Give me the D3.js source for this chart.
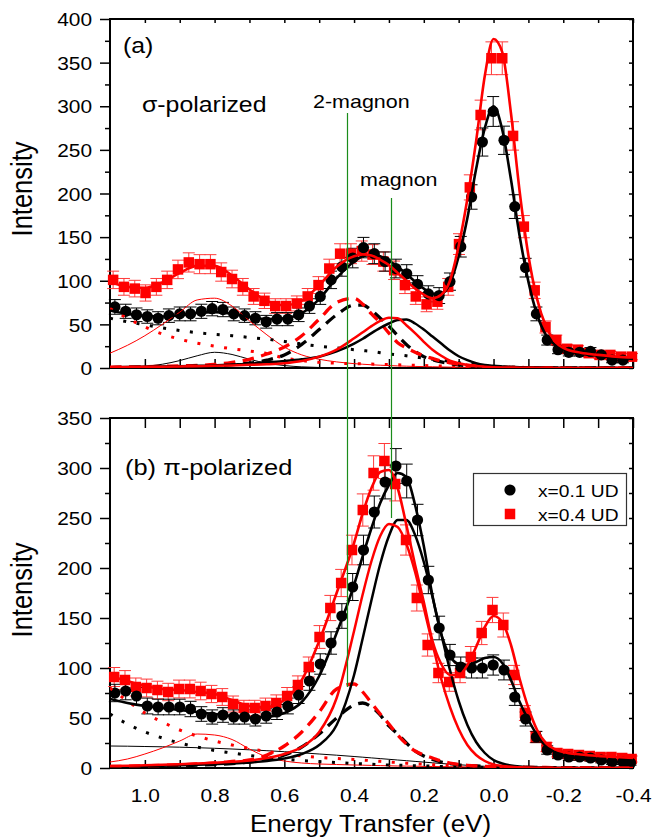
<!DOCTYPE html>
<html>
<head>
<meta charset="utf-8">
<script src="https://cdn.jsdelivr.net/npm/d3@7"></script>
<style>
  html, body { margin: 0; padding: 0; background: #fff; }
  svg { display: block; }
</style>
</head>
<body>
<svg id="chart" width="654" height="838"></svg>
<script>
// ---------- measured spectra (energy transfer in eV, intensity in counts) ----------
const energyBlackA = [1.086, 1.055, 1.024, 0.993, 0.962, 0.931, 0.900, 0.869, 0.838, 0.807,
  0.776, 0.745, 0.714, 0.683, 0.652, 0.621, 0.590, 0.559, 0.528, 0.497,
  0.466, 0.435, 0.404, 0.373, 0.342, 0.311, 0.280, 0.249, 0.218, 0.187,
  0.156, 0.125, 0.094, 0.063, 0.032, 0.001, -0.030, -0.061, -0.092, -0.123,
  -0.154, -0.185, -0.216, -0.247, -0.278, -0.309, -0.340, -0.371];
const intensityBlackA = [70, 65, 61, 59, 57, 60, 62, 62, 65, 68,
  67, 62, 60, 57, 53, 56, 56, 61, 71, 82,
  101, 116, 126, 138, 131, 122, 114, 108, 96, 85,
  83, 99, 139, 196, 259, 294, 261, 185, 115, 62,
  32, 21, 18, 18, 19, 15, 9, 9];
const errorBlackA = [8.4, 8.1, 7.8, 7.7, 7.5, 7.7, 7.9, 7.9, 8.1, 8.2,
  8.2, 7.9, 7.7, 7.5, 7.3, 7.5, 7.5, 7.8, 8.4, 9.1,
  10, 10.8, 11.2, 11.7, 11.4, 11, 10.7, 10.4, 9.8, 9.2,
  9.1, 9.9, 11.8, 14, 16.1, 17.1, 16.2, 13.6, 10.7, 7.9,
  5.7, 4.6, 4.2, 4.2, 4.4, 3.9, 3, 3];

const energyRedA = [1.091, 1.060, 1.029, 0.998, 0.967, 0.936, 0.905, 0.874, 0.843, 0.812,
  0.781, 0.750, 0.719, 0.688, 0.657, 0.626, 0.595, 0.564, 0.533, 0.502,
  0.471, 0.440, 0.409, 0.378, 0.347, 0.316, 0.285, 0.254, 0.223, 0.192,
  0.161, 0.130, 0.099, 0.068, 0.037, 0.006, -0.025, -0.056, -0.087, -0.118,
  -0.149, -0.180, -0.211, -0.242, -0.273, -0.304, -0.335, -0.366, -0.397];
const intensityRedA = [101, 93, 91, 86, 93, 101, 113, 121, 119, 119,
  110, 102, 93, 82, 77, 71, 71, 74, 82, 95,
  114, 131, 131, 134, 130, 122, 112, 95, 82, 73,
  76, 93, 142, 207, 290, 355, 355, 266, 162, 89,
  47, 32, 22, 21, 17, 15, 15, 13, 13];
const errorRedA = [10, 9.6, 9.5, 9.3, 9.6, 10, 10.6, 11, 10.9, 10.9,
  10.5, 10.1, 9.6, 9.1, 8.8, 8.4, 8.4, 8.6, 9.1, 9.7,
  10.7, 11.4, 11.4, 11.6, 11.4, 11, 10.6, 9.7, 9.1, 8.5,
  8.7, 9.6, 11.9, 14.4, 17, 18.8, 18.8, 16.3, 12.7, 9.4,
  6.9, 5.7, 4.7, 4.6, 4.1, 3.9, 3.9, 3.6, 3.6];

const energyBlackB = [1.086, 1.055, 1.024, 0.993, 0.962, 0.931, 0.900, 0.869, 0.838, 0.807,
  0.776, 0.745, 0.714, 0.683, 0.652, 0.621, 0.590, 0.559, 0.528, 0.497,
  0.466, 0.435, 0.404, 0.373, 0.342, 0.311, 0.280, 0.249, 0.218, 0.187,
  0.156, 0.125, 0.094, 0.063, 0.032, 0.001, -0.030, -0.061, -0.092, -0.123,
  -0.154, -0.185, -0.216, -0.247, -0.278, -0.309, -0.340, -0.371, -0.393];
const intensityBlackB = [75, 77, 72, 62, 61, 61, 61, 59, 54, 51,
  53, 51, 51, 49, 52, 56, 62, 73, 87, 104,
  125, 152, 181, 218, 256, 286, 302, 287, 248, 188,
  140, 113, 101, 100, 100, 103, 98, 71, 49, 31,
  18, 13, 11, 11, 10, 8, 6, 6, 5];
const errorBlackB = [8.7, 8.8, 8.5, 7.9, 7.8, 7.8, 7.8, 7.7, 7.3, 7.1,
  7.3, 7.1, 7.1, 7, 7.2, 7.5, 7.9, 8.5, 9.3, 10.2,
  11.2, 12.3, 13.5, 14.8, 16, 16.9, 17.4, 16.9, 15.7, 13.7,
  11.8, 10.6, 10, 10, 10, 10.1, 9.9, 8.4, 7, 5.6,
  4.2, 3.6, 3.3, 3.3, 3.2, 2.8, 2.4, 2.4, 2.2];

const energyRedB = [1.088, 1.057, 1.026, 0.995, 0.964, 0.933, 0.902, 0.871, 0.840, 0.809,
  0.778, 0.747, 0.716, 0.685, 0.654, 0.623, 0.592, 0.561, 0.530, 0.499,
  0.468, 0.437, 0.406, 0.375, 0.344, 0.313, 0.282, 0.251, 0.220, 0.189,
  0.158, 0.127, 0.096, 0.065, 0.034, 0.003, -0.028, -0.059, -0.090, -0.121,
  -0.152, -0.183, -0.214, -0.245, -0.276, -0.307, -0.338, -0.369, -0.396];
const intensityRedB = [91, 88, 81, 80, 78, 76, 79, 79, 77, 74,
  71, 64, 60, 60, 62, 65, 72, 83, 101, 131,
  160, 185, 218, 258, 295, 307, 284, 228, 170, 123,
  95, 86, 95, 111, 135, 158, 143, 93, 55, 31,
  21, 15, 14, 13, 12, 11, 11, 10, 9];
const errorRedB = [9.5, 9.4, 9, 8.9, 8.8, 8.7, 8.9, 8.9, 8.8, 8.6,
  8.4, 8, 7.7, 7.7, 7.9, 8.1, 8.5, 9.1, 10, 11.4,
  12.6, 13.6, 14.8, 16.1, 17.2, 17.5, 16.9, 15.1, 13, 11.1,
  9.7, 9.3, 9.7, 10.5, 11.6, 12.6, 12, 9.6, 7.4, 5.6,
  4.6, 3.9, 3.7, 3.6, 3.5, 3.3, 3.3, 3.2, 3];

// ---------- fit curves, sampled on a common energy grid ----------
const fitEnergy = [1.1, 1.05, 1.0, 0.95, 0.9, 0.85, 0.8, 0.75, 0.7, 0.65, 0.6, 0.55, 0.5,
  0.45, 0.4, 0.375, 0.35, 0.325, 0.3, 0.275, 0.25, 0.225, 0.2, 0.175, 0.15, 0.125,
  0.1, 0.075, 0.05, 0.025, 0, -0.025, -0.05, -0.075, -0.1, -0.125, -0.15, -0.175, -0.2,
  -0.25, -0.3, -0.35, -0.4];

// (a) sigma-polarized
const totalBlackA = [66, 62, 59.5, 59, 60.5, 63, 64, 62, 58.5, 56, 57, 63, 79,
  103, 122, 128, 129.5, 128, 123, 116, 108, 99, 91, 85, 85, 97,
  128, 172, 228, 275, 300, 273, 216, 151, 99, 61, 38, 27, 21.5,
  16.5, 14, 12, 10.5];
const totalRedA = [99, 93, 92, 98, 109, 117, 117, 106, 90, 77, 72, 77, 95,
  116, 128, 130, 129, 124, 118, 109, 100, 91, 84, 80, 84, 100,
  140, 194, 260, 335, 377, 362, 292, 202, 129, 79, 48, 31, 23,
  17.5, 15, 13, 12];
const magnonBlackA = [1, 1.2, 1.5, 1.8, 2, 2.5, 3, 4, 5, 6.5, 8, 10, 13,
  19, 28, 33.5, 40, 46, 51, 55, 55.5, 51, 44, 36, 28, 20,
  13.5, 9, 5.5, 3.5, 2.5, 1.8, 1.2, 0.9, 0.6, 0.5, 0.4, 0.3, 0.3,
  0.2, 0.2, 0.1, 0.1];
const magnonRedA = [1, 1.1, 1.3, 1.5, 1.8, 2.1, 2.5, 3, 3.6, 4.3, 5.5, 8, 13,
  21, 34, 41, 48, 54, 57.5, 57, 49, 40, 30, 21, 14, 8.5,
  5.5, 3.5, 2.2, 1.5, 1, 0.7, 0.5, 0.4, 0.3, 0.2, 0.2, 0.1, 0.1,
  0.1, 0, 0, 0];
const twoMagnonBlackA = [0.5, 0.7, 0.9, 1.2, 1.5, 2, 2.5, 3.8, 5.5, 9, 15, 27, 44,
  61, 72, 72, 66, 57, 48, 37, 27, 19, 13, 9.5, 7, 5,
  3.5, 2.5, 1.8, 1.3, 1, 0.8, 0.6, 0.5, 0.4, 0.3, 0.3, 0.2, 0.2,
  0.2, 0.1, 0.1, 0.1];
const twoMagnonRedA = [1, 1.2, 1.5, 2, 2.5, 3, 4, 6.5, 10, 16, 24, 37, 56,
  75, 80, 73, 62, 52, 40, 29, 23, 18, 14, 11, 8, 6,
  4.5, 3.3, 2.5, 1.8, 1.4, 1, 0.8, 0.6, 0.5, 0.4, 0.3, 0.3, 0.2,
  0.2, 0.1, 0.1, 0.1];
const backgroundBlackA = [57, 53, 49.5, 46, 43, 40.5, 38.5, 37, 35, 33, 30.5, 27.5, 25,
  23, 21, 20, 19, 17.5, 16, 15, 14, 12.5, 11.5, 10, 9, 7.5,
  6, 5, 4, 3, 2, 1.5, 1, 0.7, 0.5, 0.3, 0.2, 0.1, 0.1,
  0, 0, 0, 0];
const backgroundRedA = [68, 57, 47, 39, 33, 28.5, 25, 22, 19.5, 16.5, 11.5, 8.5, 6.5,
  5.5, 5, 4.8, 4.5, 4.2, 4, 3.7, 3.4, 3.1, 2.8, 2.5, 2.2, 2,
  1.7, 1.4, 1.1, 0.8, 0.6, 0.4, 0.3, 0.2, 0.1, 0.1, 0, 0, 0,
  0, 0, 0, 0];
const highBlackA = [0.3, 0.8, 2, 4.3, 8.5, 14, 18, 15.5, 10, 5.5, 2.8, 1.3, 0.6,
  0.3, 0.1, 0.1, 0, 0, 0, 0, 0, 0, 0, 0, 0, 0,
  0, 0, 0, 0, 0, 0, 0, 0, 0, 0, 0, 0, 0,
  0, 0, 0, 0];
const highRedA = [17, 26, 37, 50, 64, 78, 80, 71, 54, 38, 24, 15, 10,
  7, 5, 4.3, 3.7, 3.2, 2.8, 2.4, 2.1, 1.8, 1.6, 1.4, 1.2, 1,
  0.9, 0.8, 0.7, 0.6, 0.5, 0.45, 0.4, 0.35, 0.3, 0.3, 0.25, 0.25, 0.2,
  0.2, 0.2, 0.2, 0.2];

// (b) pi-polarized
const totalBlackB = [69, 65, 62, 60, 58, 56, 54, 52, 50.5, 51, 55, 66, 92,
  135, 183, 212, 240, 265, 283, 295, 291, 263, 222, 172, 134, 112,
  104, 103, 106, 110, 111, 105, 88, 66, 48, 33, 22, 16, 12.5,
  9.5, 7.5, 6, 5];
const totalRedB = [92, 87, 82, 79, 78, 76, 74, 68, 62, 61, 68, 88, 127,
  175, 225, 255, 280, 296, 298, 280, 243, 203, 166, 127, 104, 93,
  93, 103, 121, 141, 152, 146, 123, 89, 60, 38, 25, 19, 16,
  13.5, 12, 11, 10];
const magnonBlackB = [1.5, 1.7, 2, 2.3, 2.7, 3.2, 3.8, 4.5, 5.5, 7, 9.5, 14, 23,
  43, 93, 130, 168, 204, 232, 248, 248, 233, 206, 171, 134, 98,
  67, 43, 26, 15, 8, 4.5, 2.5, 1.5, 1, 0.6, 0.4, 0.3, 0.2,
  0.1, 0.1, 0.1, 0];
const magnonRedB = [2, 2.3, 2.7, 3.2, 3.8, 4.5, 5.3, 6.3, 7.5, 10, 14, 21, 36,
  70, 137, 174, 207, 232, 244, 241, 224, 196, 160, 124, 89, 61,
  39, 23, 13, 7, 3.5, 2, 1.2, 0.8, 0.5, 0.3, 0.2, 0.1, 0.1,
  0, 0, 0, 0];
const twoMagnonBlackB = [1, 1.2, 1.5, 1.8, 2.2, 2.8, 3.5, 4.5, 6, 8.5, 13, 21, 34,
  50, 63, 65, 61, 53, 42, 34, 25, 17, 12, 8.5, 6, 4.3,
  3.2, 2.5, 2, 1.6, 1.3, 1, 0.8, 0.7, 0.6, 0.5, 0.4, 0.4, 0.3,
  0.3, 0.2, 0.2, 0.2];
const twoMagnonRedB = [1.5, 1.8, 2.2, 2.6, 3.2, 4, 5, 6.5, 8, 13, 22, 36, 56,
  79, 84, 76, 65, 54, 44, 33, 24, 17, 13, 10, 7, 5,
  3.5, 2.7, 2.1, 1.7, 1.4, 1.1, 0.9, 0.8, 0.7, 0.6, 0.5, 0.4, 0.4,
  0.3, 0.3, 0.2, 0.2];
const backgroundBlackB = [54, 44, 36, 30, 25, 21, 17.5, 15, 12.5, 10.5, 9, 7.5, 6.5,
  5.5, 4.5, 4.2, 3.8, 3.4, 3, 2.8, 2.5, 2.2, 2, 1.8, 1.5, 1.3,
  1, 0.8, 0.6, 0.5, 0.4, 0.3, 0.2, 0.1, 0.1, 0, 0, 0, 0,
  0, 0, 0, 0];
const backgroundRedB = [80, 67, 55, 46, 38, 32, 27, 23, 19.5, 16.5, 14, 12, 10.5,
  9.5, 8.5, 8, 7.3, 6.7, 6, 5.4, 4.8, 4.3, 3.8, 3.3, 2.9, 2.5,
  2.1, 1.8, 1.5, 1.2, 1, 0.8, 0.6, 0.5, 0.4, 0.3, 0.2, 0.1, 0.1,
  0, 0, 0, 0];
const highBlackB = [22, 21.8, 21.5, 21.2, 20.8, 20.3, 19.7, 19, 18.2, 17.3, 16.3, 15.2, 14,
  12.8, 11.5, 10.8, 10.1, 9.4, 8.7, 8, 7.3, 6.6, 5.9, 5.2, 4.5, 3.9,
  3.3, 2.7, 2.2, 1.7, 1.3, 1, 0.7, 0.5, 0.35, 0.25, 0.2, 0.15, 0.1,
  0.1, 0, 0, 0];
const highRedB = [6, 9, 14, 20, 27, 34, 33, 28.5, 19, 11, 7, 5, 4,
  3.5, 3, 2.8, 2.6, 2.4, 2.2, 2, 1.9, 1.8, 1.6, 1.5, 1.4, 1.3,
  1.2, 1.1, 1, 0.9, 0.8, 0.7, 0.7, 0.6, 0.6, 0.5, 0.5, 0.5, 0.5,
  0.4, 0.4, 0.4, 0.4];

// ---------- axes ----------
const xMajorTicks = [1.0, 0.8, 0.6, 0.4, 0.2, 0.0, -0.2, -0.4];
const xMinorTicks = [0.9, 0.7, 0.5, 0.3, 0.1, -0.1, -0.3];
const yMajorTicksA = [0, 50, 100, 150, 200, 250, 300, 350, 400];
const yMinorTicksA = [25, 75, 125, 175, 225, 275, 325, 375];
const yMajorTicksB = [0, 50, 100, 150, 200, 250, 300, 350];
const yMinorTicksB = [25, 75, 125, 175, 225, 275, 325];

// energies marked by the guide lines
const twoMagnonEnergy = 0.42;
const magnonEnergy = 0.294;

const FONT = '"Liberation Sans", Arial, Helvetica, sans-serif';
const STRETCH = 1.13;   // glyphs are drawn slightly wide
const BLACK = '#000000';
const RED = '#ff0000';
const RED_ERR = '#ff3a3a';
const GREEN = '#1a8c1a';

const svg = d3.select('#chart');
const x = d3.scaleLinear().domain([1.1, -0.4]).range([110, 633]);

function addText(parent, str, px, py, size, anchor, rotate) {
  let t = `translate(${px},${py}) scale(${STRETCH},1)`;
  if (rotate) t += ` rotate(${rotate})`;
  return parent.append('text')
    .attr('transform', t)
    .attr('text-anchor', anchor || 'start')
    .attr('font-family', FONT)
    .attr('font-size', size)
    .attr('fill', '#000')
    .text(str);
}

function drawPanel(cfg) {
  const y = cfg.y;
  const [yBottom, yTop] = y.range();
  const g = svg.append('g');
  const clipId = 'clip-' + cfg.id;
  svg.append('defs').append('clipPath').attr('id', clipId)
    .append('rect').attr('x', 110).attr('y', yTop).attr('width', 523).attr('height', yBottom - yTop);

  const tickStyle = sel => {
    sel.select('.domain').remove();
    sel.selectAll('.tick line').attr('stroke', '#000').attr('stroke-width', 1.5);
    sel.attr('font-family', FONT).attr('font-size', 18.5);
  };

  // left axis: outward ticks with labels
  g.append('g').attr('transform', 'translate(110,0)')
    .call(d3.axisLeft(y).tickValues(cfg.yMajor).tickSize(10).tickPadding(5.9)
      .tickFormat(d => String(d)))
    .call(tickStyle)
    .call(s => s.selectAll('.tick text')
      .attr('fill', '#000').attr('dy', '0.36em')
      .attr('transform', `scale(${STRETCH},1)`));
  g.append('g').attr('transform', 'translate(110,0)')
    .call(d3.axisLeft(y).tickValues(cfg.yMinor).tickSize(5).tickFormat(''))
    .call(tickStyle);

  // right axis: short inward ticks
  g.append('g').attr('transform', 'translate(633,0)')
    .call(d3.axisRight(y).tickValues(cfg.yMajor.concat(cfg.yMinor)).tickSizeInner(-4).tickSizeOuter(0).tickFormat(''))
    .call(tickStyle);

  // top axis: inward ticks
  g.append('g').attr('transform', `translate(0,${yTop})`)
    .call(d3.axisTop(x).tickValues(xMajorTicks.concat(xMinorTicks)).tickSizeInner(-cfg.topTick).tickSizeOuter(0).tickFormat(''))
    .call(tickStyle);

  // bottom axis: inward ticks, labels only on the lower panel
  g.append('g').attr('transform', `translate(0,${yBottom})`)
    .call(d3.axisBottom(x).tickValues(xMajorTicks).tickSizeInner(-cfg.bottomTick).tickSizeOuter(0)
      .tickFormat(cfg.xLabels ? (d => d.toFixed(1)) : ''))
    .call(tickStyle)
    .call(s => s.selectAll('.tick text')
      .attr('fill', '#000').attr('y', 33.7).attr('dy', null)
      .attr('transform', `scale(${STRETCH},1)`));
  g.append('g').attr('transform', `translate(0,${yBottom})`)
    .call(d3.axisBottom(x).tickValues(xMinorTicks).tickSizeInner(-cfg.bottomTick).tickSizeOuter(0).tickFormat(''))
    .call(tickStyle);

  // frame
  g.append('rect').attr('x', 110).attr('y', yTop).attr('width', 523).attr('height', yBottom - yTop)
    .attr('fill', 'none').attr('stroke', '#000').attr('stroke-width', 2);

  // data: error bars then markers
  const drawErrors = (E, V, S, color) => {
    g.append('g').selectAll('path').data(d3.zip(E, V, S)).join('path')
      .attr('d', d => {
        const px = x(d[0]), lo = y(d[1] - d[2]), hi = y(d[1] + d[2]);
        return `M${px - 6},${hi}H${px + 6}M${px},${hi}V${lo}M${px - 6},${lo}H${px + 6}`;
      })
      .attr('fill', 'none').attr('stroke', color).attr('stroke-width', 1);
  };
  drawErrors(cfg.redE, cfg.redV, cfg.redS, RED_ERR);
  drawErrors(cfg.blackE, cfg.blackV, cfg.blackS, BLACK);

  g.append('g').selectAll('rect').data(d3.zip(cfg.redE, cfg.redV)).join('rect')
    .attr('x', d => x(d[0]) - 5.25).attr('y', d => y(d[1]) - 5.25)
    .attr('width', 10.5).attr('height', 10.5).attr('fill', RED);
  g.append('g').selectAll('circle').data(d3.zip(cfg.blackE, cfg.blackV)).join('circle')
    .attr('cx', d => x(d[0])).attr('cy', d => y(d[1])).attr('r', 5.6).attr('fill', BLACK);

  // fitted components and totals
  const line = d3.line().x(d => x(d[0])).y(d => y(d[1])).curve(d3.curveMonotoneX);
  const lines = g.append('g').attr('clip-path', `url(#${clipId})`);
  const addCurve = (vals, color, width, dash) => {
    lines.append('path').datum(d3.zip(fitEnergy, vals))
      .attr('d', line).attr('fill', 'none').attr('stroke', color)
      .attr('stroke-width', width).attr('stroke-dasharray', dash || null)
      .attr('stroke-linejoin', 'round');
  };
  cfg.curves.forEach(c => addCurve(c[0], c[1], c[2], c[3]));
  return g;
}

const DOT = '3 10.5';
const DASH = '11.5 7.5';

const yA = d3.scaleLinear().domain([0, 400]).range([368, 19]);
const yB = d3.scaleLinear().domain([0, 350]).range([768, 418]);

drawPanel({
  id: 'a', y: yA, yMajor: yMajorTicksA, yMinor: yMinorTicksA, topTick: 4, bottomTick: 9, xLabels: false,
  blackE: energyBlackA, blackV: intensityBlackA, blackS: errorBlackA,
  redE: energyRedA, redV: intensityRedA, redS: errorRedA,
  curves: [
    [highBlackA, BLACK, 1], [highRedA, RED, 1],
    [backgroundBlackA, BLACK, 3, DOT], [backgroundRedA, RED, 3, DOT],
    [twoMagnonBlackA, BLACK, 3.3, DASH], [twoMagnonRedA, RED, 3.3, DASH],
    [magnonBlackA, BLACK, 2.5], [magnonRedA, RED, 2.5],
    [totalBlackA, BLACK, 2.6], [totalRedA, RED, 2.6]
  ]
});

drawPanel({
  id: 'b', y: yB, yMajor: yMajorTicksB, yMinor: yMinorTicksB, topTick: 10, bottomTick: 8, xLabels: true,
  blackE: energyBlackB, blackV: intensityBlackB, blackS: errorBlackB,
  redE: energyRedB, redV: intensityRedB, redS: errorRedB,
  curves: [
    [highBlackB, BLACK, 1], [highRedB, RED, 1],
    [backgroundBlackB, BLACK, 3, DOT], [backgroundRedB, RED, 3, DOT],
    [twoMagnonBlackB, BLACK, 3.3, DASH], [twoMagnonRedB, RED, 3.3, DASH],
    [magnonBlackB, BLACK, 2.5], [magnonRedB, RED, 2.5],
    [totalBlackB, BLACK, 2.6], [totalRedB, RED, 2.6]
  ]
});

// guide lines for the 2-magnon and magnon energies (snapped to the pixel grid)
const crisp = v => Math.round(v) + 0.5;
svg.append('line').attr('x1', crisp(x(twoMagnonEnergy))).attr('x2', crisp(x(twoMagnonEnergy)))
  .attr('y1', 113).attr('y2', 687).attr('stroke', GREEN).attr('stroke-width', 1.2);
svg.append('line').attr('x1', crisp(x(magnonEnergy))).attr('x2', crisp(x(magnonEnergy)))
  .attr('y1', 198).attr('y2', 518).attr('stroke', GREEN).attr('stroke-width', 1.2);

// annotations
const ann = svg.append('g');
addText(ann, '(a)', 123, 52.5, 22);
addText(ann, 'σ-polarized', 142, 112, 22);
addText(ann, '2-magnon', 313, 107.5, 19);
addText(ann, 'magnon', 360, 186, 19);
addText(ann, '(b) π-polarized', 125, 474.5, 22.5);

// axis titles
addText(ann, 'Intensity', 32, 189, 25.5, 'middle', -90);
addText(ann, 'Intensity', 32, 590, 25.5, 'middle', -90);
addText(ann, 'Energy Transfer (eV)', 370.5, 831.5, 23, 'middle');

// legend
const leg = svg.append('g');
leg.append('rect').attr('x', 473.5).attr('y', 473.5).attr('width', 153).attr('height', 52)
  .attr('fill', '#fff').attr('stroke', '#333').attr('stroke-width', 1.2);
leg.append('circle').attr('cx', 510).attr('cy', 490).attr('r', 5.6).attr('fill', BLACK);
leg.append('rect').attr('x', 504.75).attr('y', 508.75).attr('width', 10.5).attr('height', 10.5).attr('fill', RED);
addText(leg, 'x=0.1 UD', 538, 496.5, 17);
addText(leg, 'x=0.4 UD', 538, 520.5, 17);
</script>
</body>
</html>
